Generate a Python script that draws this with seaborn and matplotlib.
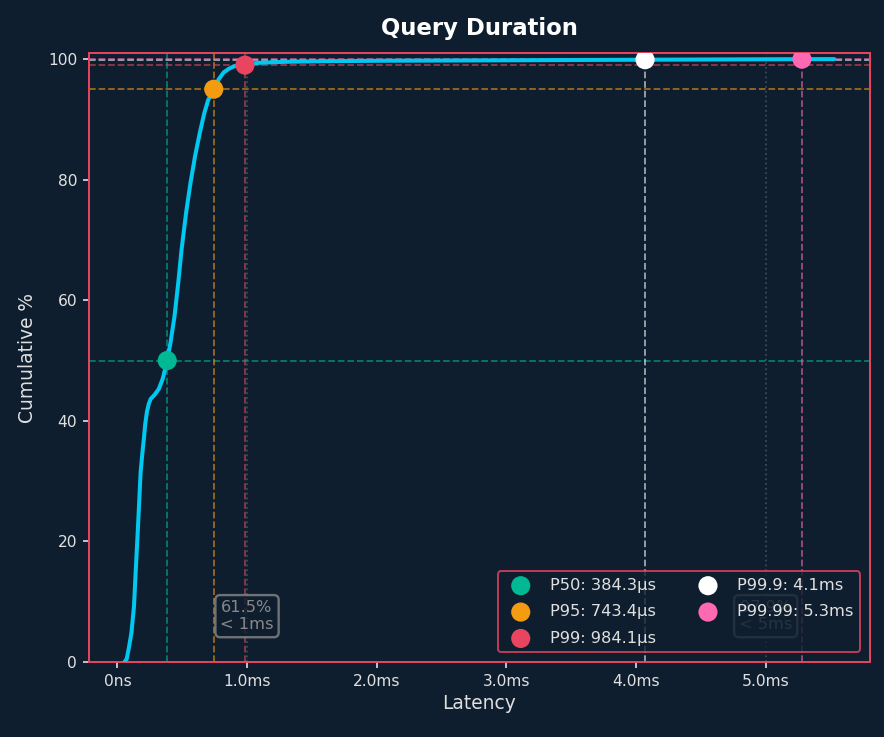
import matplotlib
matplotlib.use("Agg")
import matplotlib.pyplot as plt
from matplotlib.ticker import FuncFormatter
import seaborn as sns
import pandas as pd

# latency CDF (ms, cumulative %)
latency_ms = [0.055, 0.072, 0.09, 0.108, 0.128, 0.14, 0.154, 0.167, 0.179, 0.192,
              0.205, 0.215, 0.228, 0.242, 0.256, 0.29, 0.32, 0.35, 0.3843, 0.41,
              0.441, 0.47, 0.495, 0.53, 0.564, 0.60, 0.636, 0.67, 0.70, 0.7434,
              0.78, 0.82, 0.86, 0.9, 0.9841, 1.1, 1.3, 1.6, 2.0, 3.0, 4.07, 5.0,
              5.28, 5.53]
cum_pct = [0.0, 0.5, 2.5, 4.8, 9.2, 14.5, 20.3, 26.0, 31.4, 34.5,
           37.2, 39.5, 41.5, 42.8, 43.6, 44.4, 45.3, 47.0, 50.0, 53.0,
           57.4, 63.0, 68.4, 74.5, 79.5, 84.0, 87.8, 91.0, 93.2, 95.0,
           96.6, 97.8, 98.4, 98.8, 99.1, 99.4, 99.55, 99.65, 99.72, 99.8, 99.9, 99.97,
           99.99, 100.0]

pct_names = ["P50", "P95", "P99", "P99.9", "P99.99"]
pct_levels = [50, 95, 99, 99.9, 99.99]
pct_values = [0.3843, 0.7434, 0.9841, 4.07, 5.28]
pct_labels = ["384.3µs", "743.4µs", "984.1µs", "4.1ms", "5.3ms"]
pct_colors = ["#00b894", "#f39c12", "#e94560", "#ffffff", "#ff69b4"]

thresholds = [1.0, 5.0]
threshold_text = ["61.5%\n< 1ms", "97.9%\n< 5ms"]

BG = "#0f1e2e"
FG = "#e0e0e0"

sns.set_theme(style="dark", rc={
    "figure.facecolor": BG, "axes.facecolor": BG, "axes.edgecolor": "#e94560",
    "text.color": FG, "axes.labelcolor": FG, "xtick.color": FG, "ytick.color": FG,
    "axes.grid": False,
})
plt.rcParams["font.family"] = ["DejaVu Sans"]

fig, ax = plt.subplots(figsize=(8.84, 7.37), dpi=100)
fig.subplots_adjust(left=0.1007, right=0.984, top=0.928, bottom=0.1018)

df = pd.DataFrame({"latency": latency_ms, "pct": cum_pct})
sns.lineplot(data=df, x="latency", y="pct", color="#00c8f0", linewidth=2.9, ax=ax, zorder=3)

for name, lvl, val, lab, col in zip(pct_names, pct_levels, pct_values, pct_labels, pct_colors):
    ax.axhline(lvl, color=col, linestyle="--", linewidth=1.3, alpha=0.6, zorder=1)
    ax.axvline(val, color=col, linestyle="--", linewidth=1.3, alpha=0.6, zorder=1)
    sns.scatterplot(x=[val], y=[lvl], color=col, s=190, edgecolor="none",
                    label=f"{name}: {lab}", ax=ax, zorder=5)

for t, txt in zip(thresholds, threshold_text):
    ax.axvline(t, color="#888888", linestyle=":", linewidth=1.3, alpha=0.4, zorder=1)
    ax.text(t, 7.6, txt, ha="center", va="center", fontsize=11.7, color="#888888",
            bbox=dict(boxstyle="round,pad=0.3", facecolor=BG, edgecolor="#888888",
                      alpha=0.8, linewidth=1.7), zorder=2)

ax.set_ylim(0, 101)
ax.set_yticks([0, 20, 40, 60, 80, 100])
ax.set_xticks([0, 1, 2, 3, 4, 5])
ax.xaxis.set_major_formatter(FuncFormatter(lambda v, p: "0ns" if v == 0 else f"{v:.1f}ms"))
ax.tick_params(axis="both", length=4.5, width=1.2, colors=FG, labelsize=11.2,
               bottom=True, left=True, pad=4)
for s in ax.spines.values():
    s.set_color("#e94560")
    s.set_linewidth(1.4)

ax.set_xlabel("Latency", fontsize=13.4)
ax.set_ylabel("Cumulative %", fontsize=13.4, labelpad=8)
ax.set_title("Query Duration", fontsize=16.4, fontweight="bold", color="white", pad=13)

leg = ax.legend(loc="lower right", ncol=2, fontsize=11.7, facecolor=BG, edgecolor="#e94560",
                framealpha=0.8, labelcolor=FG, columnspacing=2.2, labelspacing=0.7,
                borderaxespad=0.6)
leg.get_frame().set_linewidth(1.4)
leg.set_zorder(10)

fig.savefig("out.png", dpi=100, facecolor=BG)
